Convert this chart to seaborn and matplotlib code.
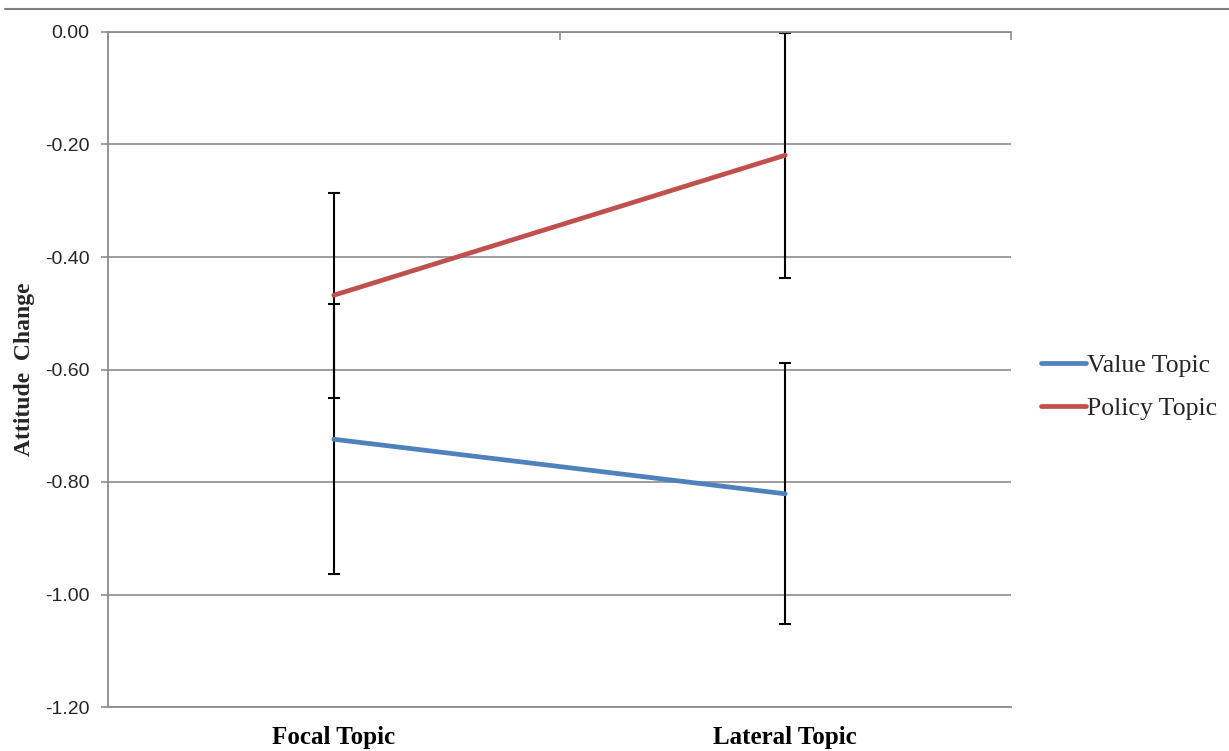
import matplotlib
matplotlib.use("Agg")
import matplotlib.pyplot as plt
from matplotlib.lines import Line2D
from matplotlib.ticker import FuncFormatter, MultipleLocator
import seaborn as sns
import pandas as pd

# Attitude change by topic position, with standard errors
positions = ["Focal Topic", "Lateral Topic"]
value_topic = [-0.724, -0.821]
value_se = [0.240, 0.232]
policy_topic = [-0.468, -0.219]
policy_se = [0.182, 0.218]
series_names = ["Value Topic", "Policy Topic"]

df = pd.DataFrame({
    "position": positions * 2,
    "change": value_topic + policy_topic,
    "se": value_se + policy_se,
    "series": [series_names[0]] * 2 + [series_names[1]] * 2,
})

sns.set_theme(style="white")
plt.rcParams["axes.unicode_minus"] = False

palette = {"Value Topic": "#4F81BD", "Policy Topic": "#C0504D"}
grid_gray = "#8C8C8C"

fig = plt.figure(figsize=(12.29, 7.51), dpi=100)
ax = fig.add_axes([108 / 1229, 1 - 707 / 751, (1011 - 108) / 1229, (707 - 32) / 751])

# error bars first so the lines sit on top
for name in series_names:
    sub = df[df["series"] == name]
    ax.errorbar(range(len(sub)), sub["change"], yerr=sub["se"], fmt="none",
                ecolor="black", elinewidth=1.5, capsize=4.5, capthick=1.5, zorder=2)

sns.lineplot(data=df, x="position", y="change", hue="series", palette=palette,
             linewidth=3.4, ax=ax, sort=False, zorder=3, legend=False)

ax.set_xlim(-0.5, 1.5)
ax.set_ylim(-1.2, 0.0)
ax.yaxis.set_major_locator(MultipleLocator(0.2))
ax.yaxis.set_major_formatter(FuncFormatter(lambda v, p: f"{abs(v):.2f}" if abs(v) < 1e-9 else f"{v:.2f}"))
ax.grid(axis="y", color=grid_gray, linewidth=1.2)
ax.grid(axis="x", visible=False)

for side in ["left", "top", "bottom"]:
    ax.spines[side].set_visible(True)
    ax.spines[side].set_color(grid_gray)
    ax.spines[side].set_linewidth(1.3)
ax.spines["right"].set_visible(False)

ax.tick_params(axis="y", which="major", left=True, length=5, width=1.2, color=grid_gray,
               pad=8.5, labelsize=14, labelcolor="#262626")
for t in ax.get_yticklabels():
    t.set_family("Liberation Sans")

ax.set_xticks(range(len(positions)))
ax.set_xticklabels(positions, family="Liberation Serif", fontweight="bold", fontsize=18)
ax.tick_params(axis="x", bottom=False, pad=8, labelcolor="black")
ax.set_xlabel("")

# category boundary ticks on the horizontal axis crossing at zero
top = ax.secondary_xaxis("top")
top.set_xticks([-0.5, 0.5, 1.5])
top.set_xticklabels([])
top.tick_params(direction="in", length=6, width=1.2, color=grid_gray)
top.spines["top"].set_visible(False)

ax.set_ylabel("Attitude  Change", family="Liberation Serif", fontweight="bold",
              fontsize=17, labelpad=7)

handles = [Line2D([], [], color=palette[n], linewidth=3.4) for n in series_names]
fig.legend(handles, series_names, loc="center left", bbox_to_anchor=(1041 / 1229, 1 - 387 / 751),
           frameon=False, prop={"family": "Liberation Serif", "size": 18.5},
           handlelength=1.75, handletextpad=0.05, labelspacing=0.75, borderaxespad=0,
           borderpad=0)

# page rule along the top edge
fig.add_artist(Line2D([5 / 1229, 1.0], [1 - 9 / 751, 1 - 9 / 751], transform=fig.transFigure,
                      color="#7F7F7F", linewidth=1.5))

fig.savefig("out.png", dpi=100)
